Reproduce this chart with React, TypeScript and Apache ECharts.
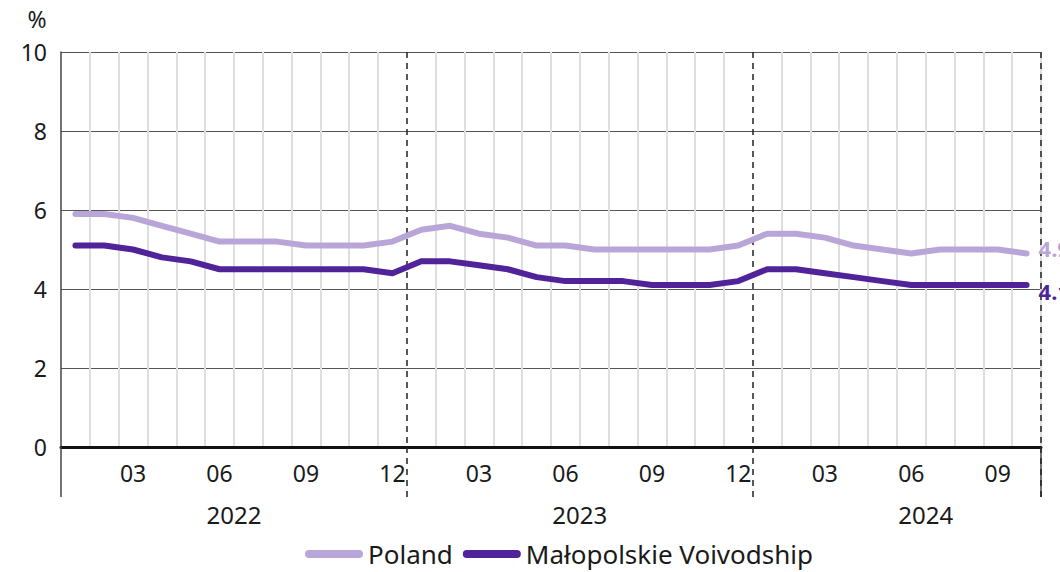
import React, { useEffect, useRef } from "react";
import * as echarts from "echarts";

const months: string[] = [
  "2022-01", "2022-02", "2022-03", "2022-04", "2022-05", "2022-06", "2022-07", "2022-08", "2022-09", "2022-10", "2022-11", "2022-12",
  "2023-01", "2023-02", "2023-03", "2023-04", "2023-05", "2023-06", "2023-07", "2023-08", "2023-09", "2023-10", "2023-11", "2023-12",
  "2024-01", "2024-02", "2024-03", "2024-04", "2024-05", "2024-06", "2024-07", "2024-08", "2024-09", "2024-10",
];

const poland: number[] = [
  5.9, 5.9, 5.8, 5.6, 5.4, 5.2, 5.2, 5.2, 5.1, 5.1, 5.1, 5.2,
  5.5, 5.6, 5.4, 5.3, 5.1, 5.1, 5.0, 5.0, 5.0, 5.0, 5.0, 5.1,
  5.4, 5.4, 5.3, 5.1, 5.0, 4.9, 5.0, 5.0, 5.0, 4.9,
];

const malopolskie: number[] = [
  5.1, 5.1, 5.0, 4.8, 4.7, 4.5, 4.5, 4.5, 4.5, 4.5, 4.5, 4.4,
  4.7, 4.7, 4.6, 4.5, 4.3, 4.2, 4.2, 4.2, 4.1, 4.1, 4.1, 4.2,
  4.5, 4.5, 4.4, 4.3, 4.2, 4.1, 4.1, 4.1, 4.1, 4.1,
];

const years: string[] = ["2022", "2023", "2024"];
const seriesNames: string[] = ["Poland", "Małopolskie Voivodship"];

const LIGHT = "#b9a6d8";
const DARK = "#50239a";
const FONT = "'Noto Sans', sans-serif";
const TEXT = "#1a1a1a";

export default function App() {
  const ref = useRef<HTMLDivElement>(null);

  useEffect(() => {
    document.body.style.margin = "0";
    if (!ref.current) return;
    const chart = echarts.init(ref.current, null, { renderer: "svg" });
    const capsule = "path://M4,0 L54,0 A4,4 0 0 1 54,8 L4,8 A4,4 0 0 1 4,0 Z";
    const yearBoundary = (i: number) => i % 12 === 0 && i > 0;

    chart.setOption({
      animation: false,
      textStyle: { fontFamily: FONT },
      grid: { left: 61, right: 19, top: 52, bottom: 125 },
      legend: {
        data: seriesNames,
        bottom: 0,
        left: 300,
        icon: capsule,
        itemWidth: 58,
        itemHeight: 8,
        itemGap: 10,
        textStyle: { fontSize: 26, color: TEXT, fontFamily: FONT },
      },
      xAxis: [
        {
          type: "category",
          data: months,
          boundaryGap: true,
          position: "bottom",
          axisLine: { show: true, onZero: true, lineStyle: { color: "#111", width: 3 } },
          axisTick: {
            show: true,
            interval: (i: number) => i === 0,
            length: 50,
            lineStyle: { color: "#444", width: 1.5 },
          },
          axisLabel: {
            interval: (i: number) => i % 3 === 2,
            formatter: (v: string) => v.slice(5),
            fontSize: 23,
            color: TEXT,
            margin: 14,
            fontFamily: FONT,
          },
          splitLine: {
            show: true,
            interval: (i: number) => i % 12 !== 0 && i < months.length,
            lineStyle: { color: "#dedede", width: 2 },
          },
        },
        {
          type: "category",
          data: months,
          boundaryGap: true,
          position: "bottom",
          axisLine: { show: false },
          axisTick: {
            show: true,
            interval: yearBoundary,
            length: 50,
            lineStyle: { color: "#222", width: 1.5, type: [6, 5] },
          },
          axisLabel: { show: false },
          splitLine: {
            show: true,
            interval: yearBoundary,
            lineStyle: { color: "#222", width: 1.5, type: [6, 5] },
          },
          z: 4,
        },
        {
          type: "value",
          min: 0,
          max: months.length,
          interval: 6,
          position: "bottom",
          axisLine: { show: false },
          axisTick: { show: false },
          splitLine: { show: false },
          axisLabel: {
            margin: 55,
            fontSize: 24,
            color: TEXT,
            fontFamily: FONT,
            showMinLabel: false,
            showMaxLabel: false,
            formatter: (v: number) => {
              const idx = (v - 6) / 12;
              return Number.isInteger(idx) && idx >= 0 && idx < years.length ? years[idx] : "";
            },
          },
        },
      ],
      yAxis: {
        type: "value",
        min: 0,
        max: 10,
        interval: 2,
        name: "%",
        nameLocation: "end",
        nameGap: 22,
        nameTextStyle: { fontSize: 23, color: TEXT, padding: [0, 48, 0, 0], fontFamily: FONT },
        axisLine: { show: true, lineStyle: { color: "#444", width: 1.5 } },
        axisTick: { show: false },
        axisLabel: { fontSize: 23, color: TEXT, margin: 14, fontFamily: FONT },
        splitLine: { show: true, lineStyle: { color: "#555", width: 1.2 } },
      },
      series: [
        {
          name: seriesNames[0],
          type: "line",
          data: poland,
          xAxisIndex: 0,
          symbol: "none",
          color: LIGHT,
          lineStyle: { width: 6, color: LIGHT, cap: "round", join: "round" },
          endLabel: {
            show: true,
            formatter: (p: any) => Number(p.value).toFixed(1),
            fontSize: 22,
            fontWeight: "bold",
            color: LIGHT,
            distance: 12,
            offset: [0, -5],
            fontFamily: FONT,
          },
          z: 5,
        },
        {
          name: seriesNames[1],
          type: "line",
          data: malopolskie,
          xAxisIndex: 0,
          symbol: "none",
          color: DARK,
          lineStyle: { width: 6, color: DARK, cap: "round", join: "round" },
          endLabel: {
            show: true,
            formatter: (p: any) => Number(p.value).toFixed(1),
            fontSize: 22,
            fontWeight: "bold",
            color: DARK,
            distance: 12,
            offset: [0, 6],
            fontFamily: FONT,
          },
          z: 6,
        },
      ],
    });

    return () => chart.dispose();
  }, []);

  return <div ref={ref} style={{ width: 1060, height: 572 }} />;
}
